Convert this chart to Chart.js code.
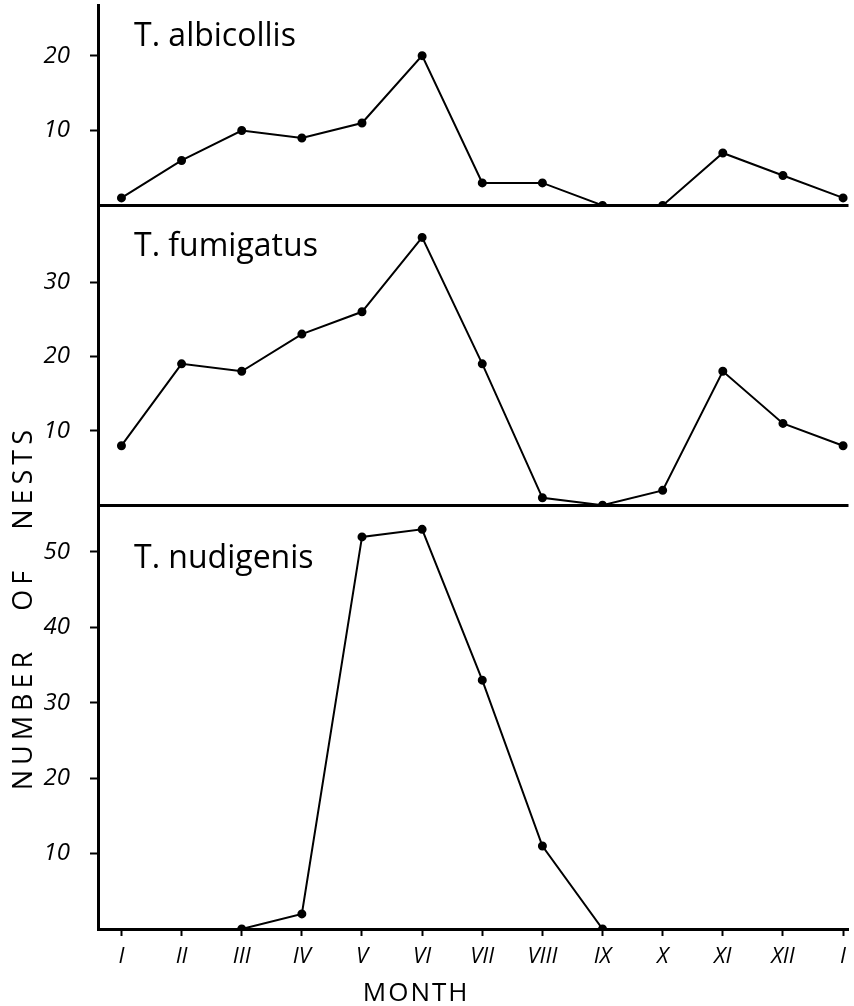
<!DOCTYPE html>
<html>
<head>
<meta charset="utf-8">
<script src="https://cdn.jsdelivr.net/npm/chart.js@4.4.0/dist/chart.umd.min.js"></script>
<style>
  html, body { margin: 0; padding: 0; background: #fff; }
</style>
</head>
<body>
<canvas id="nestChart" width="854" height="1006"></canvas>
<script>
// month labels along the bottom (the year wraps round to I again)
const months = ['I', 'II', 'III', 'IV', 'V', 'VI', 'VII', 'VIII', 'IX', 'X', 'XI', 'XII', 'I'];

// nests found per month
const albicollis = [1, 6, 10, 9, 11, 20, 3, 3, 0, 0, 7, 4, 1];
const fumigatus  = [8, 19, 18, 23, 26, 36, 19, 1, 0, 2, 18, 11, 8];
const nudigenis  = [null, null, 0, 2, 52, 53, 33, 11, 0, null, null, null, null];

const speciesNames = ['T. albicollis', 'T. fumigatus', 'T. nudigenis'];
const yTitle = 'NUMBER   OF   NESTS';
const xTitle = 'MONTH';

const FONT = '"Open Sans", "DejaVu Sans", sans-serif';
Chart.defaults.font.family = FONT;
Chart.defaults.color = '#000';

const toPoints = arr => arr.map((v, i) => ({ x: i, y: v }));

const lineStyle = {
  borderColor: '#000',
  backgroundColor: '#000',
  borderWidth: 2,
  pointRadius: 3.5,
  pointHoverRadius: 3.5,
  tension: 0,
  spanGaps: false
};

function panelAxis(max) {
  // no label or tick mark at the baseline or at the very top of a panel
  const hidden = v => v === 0 || v > max - 2;
  return {
    type: 'linear',
    position: 'left',
    stack: 'nests',
    min: 0,
    max: max,
    afterFit: s => {
      s.width = 98;
      s.paddingTop = 0;
      s.paddingBottom = 0;
    },
    border: { display: true, color: '#000', width: 3 },
    grid: {
      color: c => (c.tick && c.tick.value === 0) ? '#000' : 'rgba(0,0,0,0)',
      lineWidth: 3,
      tickColor: c => (c.tick && hidden(c.tick.value)) ? 'rgba(0,0,0,0)' : '#000',
      tickLength: 8,
      tickWidth: 2
    },
    ticks: {
      stepSize: 10,
      includeBounds: false,
      padding: 20,
      font: { size: 24, style: 'italic' },
      callback: v => hidden(v) ? '' : v
    }
  };
}

// free text: panel names and axis titles
const labels = {
  id: 'labels',
  afterDraw(chart) {
    const { ctx, chartArea, scales } = chart;
    ctx.save();
    ctx.fillStyle = '#000';
    ctx.textAlign = 'left';
    ctx.textBaseline = 'alphabetic';
    ctx.font = '32px ' + FONT;
    const offsets = [40, 51, 63];
    ['yA', 'yB', 'yC'].forEach((id, i) => {
      ctx.fillText(speciesNames[i], chartArea.left + 36, scales[id].top + offsets[i]);
    });

    ctx.font = '27px ' + FONT;
    ctx.letterSpacing = '5px';
    ctx.textAlign = 'center';
    ctx.textBaseline = 'middle';
    ctx.translate(24, chartArea.top + 0.652 * (chartArea.bottom - chartArea.top));
    ctx.rotate(-Math.PI / 2);
    ctx.fillText(yTitle, 0, 0);
    ctx.restore();

    ctx.save();
    ctx.fillStyle = '#000';
    ctx.font = '26px ' + FONT;
    ctx.letterSpacing = '2px';
    ctx.textAlign = 'center';
    ctx.textBaseline = 'alphabetic';
    ctx.fillText(xTitle, scales.x.getPixelForValue(4.9), 1001);
    ctx.restore();
  }
};

new Chart(document.getElementById('nestChart'), {
  type: 'line',
  data: {
    datasets: [
      { ...lineStyle, label: speciesNames[0], yAxisID: 'yA', data: toPoints(albicollis) },
      { ...lineStyle, label: speciesNames[1], yAxisID: 'yB', data: toPoints(fumigatus) },
      { ...lineStyle, label: speciesNames[2], yAxisID: 'yC', data: toPoints(nudigenis) }
    ]
  },
  options: {
    responsive: false,
    animation: false,
    layout: { padding: { top: 5, right: 2, left: 0, bottom: 0 } },
    plugins: {
      legend: { display: false },
      tooltip: { enabled: false }
    },
    scales: {
      x: {
        type: 'linear',
        min: -0.39,
        max: 12.09,
        afterFit: s => {
          s.height = 77;
          s.paddingLeft = 0;
          s.paddingRight = 0;
        },
        border: { display: true, color: '#000', width: 3 },
        grid: { drawOnChartArea: false, tickLength: 7, tickWidth: 2, tickColor: '#000' },
        ticks: {
          stepSize: 1,
          autoSkip: false,
          includeBounds: false,
          maxRotation: 0,
          padding: 8,
          font: { size: 22, style: 'italic' },
          callback: v => months[v] ?? ''
        }
      },
      // stacked axes: the last one listed sits on top
      yC: { ...panelAxis(56.2), stackWeight: 424 },
      yB: { ...panelAxis(40.3), stackWeight: 300 },
      yA: { ...panelAxis(26.7), stackWeight: 200 }
    }
  },
  plugins: [labels]
});
</script>
</body>
</html>
